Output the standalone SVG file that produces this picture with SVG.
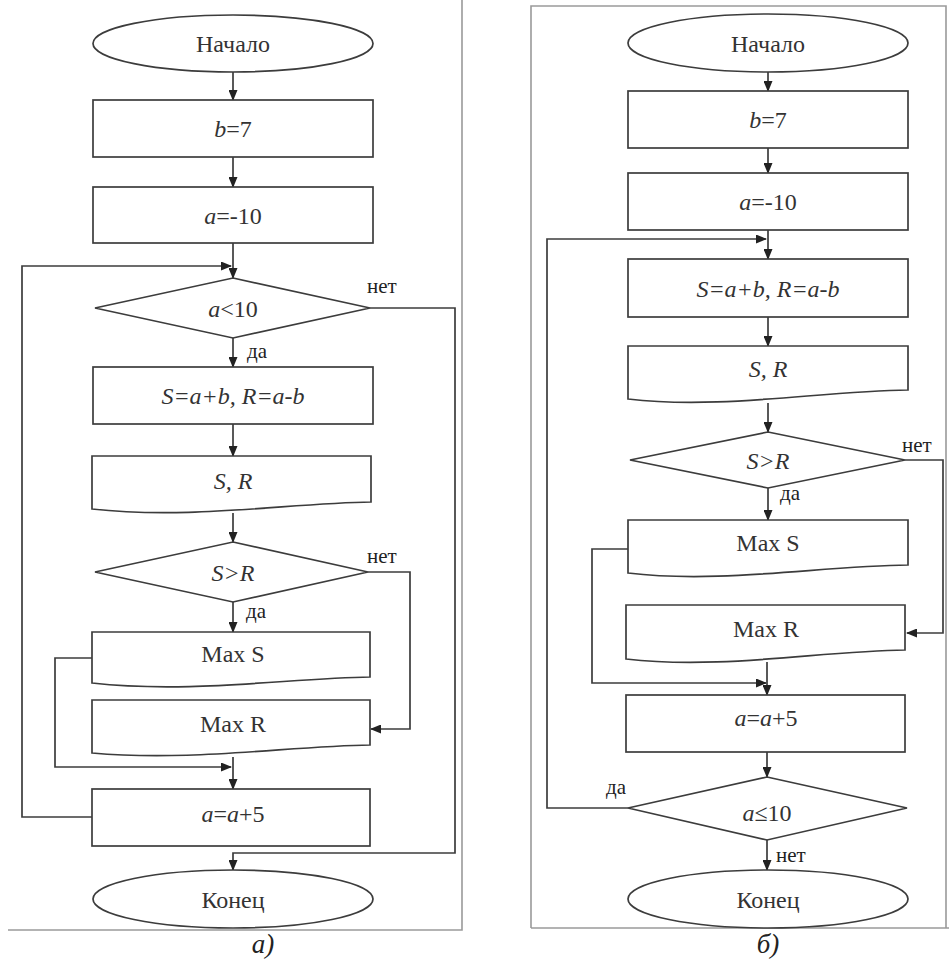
<svg xmlns="http://www.w3.org/2000/svg" width="949" height="962" viewBox="0 0 949 962">
  <style>
    .bg { fill: #ffffff; }
    .frame { fill: none; stroke: #9a9a9a; stroke-width: 1.6; }
    .shape { fill: #ffffff; stroke: #3c3c3c; stroke-width: 1.7; }
    .wire { fill: none; stroke: #3c3c3c; stroke-width: 1.7; }
    text { font-family: 'Liberation Serif', 'DejaVu Serif', 'Times New Roman', serif; }
    .t { font-size: 24px; fill: #333333; text-anchor: middle; }
    .i { font-style: italic; }
    .lbl { font-size: 21px; fill: #222222; }
    .cap { font-size: 27px; font-style: italic; fill: #222222; text-anchor: middle; }
  </style>
  <defs>
    <marker id="arrow" markerUnits="userSpaceOnUse" markerWidth="11" markerHeight="9" refX="10" refY="4.5" orient="auto">
      <path d="M0,0 L11,4.5 L0,9 Z" fill="#222222"/>
    </marker>
  </defs>

  <rect class="bg" x="0" y="0" width="949" height="962"/>

  <!-- panel frames -->
  <g id="frames">
    <path class="frame" d="M8,930 H462 V0"/>
    <path class="frame" d="M531,928 V6 H946 V928 M531,928 H949"/>
  </g>

  <!-- ===== flowchart (a): loop with pre-condition ===== -->
  <g id="a-connectors">
    <path class="wire" marker-end="url(#arrow)" d="M233,72 V100"/>
    <path class="wire" marker-end="url(#arrow)" d="M233,157 V187"/>
    <path class="wire" marker-end="url(#arrow)" d="M233,243 V278"/>
    <path class="wire" marker-end="url(#arrow)" d="M92,817 H22 V266 H231"/>
    <path class="wire" marker-end="url(#arrow)" d="M233,338 V367"/>
    <path class="wire" marker-end="url(#arrow)" d="M233,424 V456"/>
    <path class="wire" marker-end="url(#arrow)" d="M233,513 V542"/>
    <path class="wire" marker-end="url(#arrow)" d="M233,602 V632"/>
    <path class="wire" marker-end="url(#arrow)" d="M368,572 H410 V729 H371"/>
    <path class="wire" marker-end="url(#arrow)" d="M92,658 H55 V767 H231"/>
    <path class="wire" marker-end="url(#arrow)" d="M233,757 V789"/>
    <path class="wire" marker-end="url(#arrow)" d="M370,308 H455 V853 H233 V870"/>
    <text class="lbl" x="367" y="293">нет</text>
    <text class="lbl" x="247" y="358">да</text>
    <text class="lbl" x="367" y="563">нет</text>
    <text class="lbl" x="246" y="618">да</text>
  </g>

  <g id="a-start">
    <ellipse class="shape" cx="233" cy="43.5" rx="140" ry="28.5"/>
    <text class="t" x="233" y="52">Начало</text>
  </g>
  <g id="a-b7">
    <rect class="shape" x="93" y="100" width="280" height="57"/>
    <text class="t" x="233" y="137"><tspan class="i">b</tspan>=7</text>
  </g>
  <g id="a-aminus10">
    <rect class="shape" x="93" y="187" width="280" height="56"/>
    <text class="t" x="233" y="224"><tspan class="i">a</tspan>=-10</text>
  </g>
  <g id="a-cond">
    <polygon class="shape" points="233,278 370,308 233,338 95,308"/>
    <text class="t" x="233" y="317"><tspan class="i">a</tspan>&lt;10</text>
  </g>
  <g id="a-calc">
    <rect class="shape" x="93" y="367" width="280" height="57"/>
    <text class="t i" x="233" y="404">S=a+b, R=a-b</text>
  </g>
  <g id="a-out-sr">
    <path class="shape" d="M92,456 H371 V502 C290,503 190,520 92,509 Z"/>
    <text class="t i" x="233" y="489">S, R</text>
  </g>
  <g id="a-cmp">
    <polygon class="shape" points="233,542 368,572 233,602 95,572"/>
    <text class="t i" x="233" y="581">S&gt;R</text>
  </g>
  <g id="a-maxs">
    <path class="shape" d="M92,632 H370 V677 C290,678 190,694 92,683 Z"/>
    <text class="t" x="233" y="662">Max S</text>
  </g>
  <g id="a-maxr">
    <path class="shape" d="M92,700 H370 V745 C290,746 190,762 92,753 Z"/>
    <text class="t" x="233" y="732">Max R</text>
  </g>
  <g id="a-step">
    <rect class="shape" x="92" y="789" width="278" height="57"/>
    <text class="t" x="233" y="822"><tspan class="i">a</tspan>=<tspan class="i">a</tspan>+5</text>
  </g>
  <g id="a-end">
    <ellipse class="shape" cx="233" cy="899" rx="140" ry="29"/>
    <text class="t" x="233" y="908">Конец</text>
  </g>
  <text class="cap" x="263" y="953">а)</text>

  <!-- ===== flowchart (б): loop with post-condition ===== -->
  <g id="b-connectors">
    <path class="wire" marker-end="url(#arrow)" d="M768,72 V91"/>
    <path class="wire" marker-end="url(#arrow)" d="M768,148 V173"/>
    <path class="wire" marker-end="url(#arrow)" d="M768,230 V259"/>
    <path class="wire" marker-end="url(#arrow)" d="M628,808 H547 V239 H766"/>
    <path class="wire" marker-end="url(#arrow)" d="M768,317 V346"/>
    <path class="wire" marker-end="url(#arrow)" d="M768,403 V432"/>
    <path class="wire" marker-end="url(#arrow)" d="M768,488 V520"/>
    <path class="wire" marker-end="url(#arrow)" d="M905,460 H943 V633 H907"/>
    <path class="wire" marker-end="url(#arrow)" d="M628,549 H592 V683 H766"/>
    <path class="wire" marker-end="url(#arrow)" d="M767,662 V695"/>
    <path class="wire" marker-end="url(#arrow)" d="M767,752 V777"/>
    <path class="wire" marker-end="url(#arrow)" d="M767,840 V870"/>
    <text class="lbl" x="902" y="452">нет</text>
    <text class="lbl" x="780" y="500">да</text>
    <text class="lbl" x="606" y="794">да</text>
    <text class="lbl" x="776" y="862">нет</text>
  </g>

  <g id="b-start">
    <ellipse class="shape" cx="768" cy="43" rx="140" ry="29"/>
    <text class="t" x="768" y="52">Начало</text>
  </g>
  <g id="b-b7">
    <rect class="shape" x="628" y="91" width="280" height="57"/>
    <text class="t" x="768" y="128"><tspan class="i">b</tspan>=7</text>
  </g>
  <g id="b-aminus10">
    <rect class="shape" x="628" y="173" width="280" height="57"/>
    <text class="t" x="768" y="210"><tspan class="i">a</tspan>=-10</text>
  </g>
  <g id="b-calc">
    <rect class="shape" x="628" y="259" width="280" height="58"/>
    <text class="t i" x="768" y="297">S=a+b, R=a-b</text>
  </g>
  <g id="b-out-sr">
    <path class="shape" d="M628,346 H908 V390 C820,391 720,410 628,399 Z"/>
    <text class="t i" x="768" y="377">S, R</text>
  </g>
  <g id="b-cmp">
    <polygon class="shape" points="768,432 905,460 768,488 630,460"/>
    <text class="t i" x="768" y="469">S&gt;R</text>
  </g>
  <g id="b-maxs">
    <path class="shape" d="M628,520 H908 V565 C820,566 720,584 628,573 Z"/>
    <text class="t" x="768" y="551">Max S</text>
  </g>
  <g id="b-maxr">
    <path class="shape" d="M626,605 H905 V650 C820,651 720,670 626,659 Z"/>
    <text class="t" x="766" y="637">Max R</text>
  </g>
  <g id="b-step">
    <rect class="shape" x="626" y="695" width="279" height="57"/>
    <text class="t" x="766" y="726"><tspan class="i">a</tspan>=<tspan class="i">a</tspan>+5</text>
  </g>
  <g id="b-cond">
    <polygon class="shape" points="767,777 907,808 767,840 628,808"/>
    <text class="t" x="767" y="821"><tspan class="i">a</tspan>≤10</text>
  </g>
  <g id="b-end">
    <ellipse class="shape" cx="768" cy="899" rx="140" ry="29"/>
    <text class="t" x="768" y="908">Конец</text>
  </g>
  <text class="cap" x="768" y="953">б)</text>
</svg>
